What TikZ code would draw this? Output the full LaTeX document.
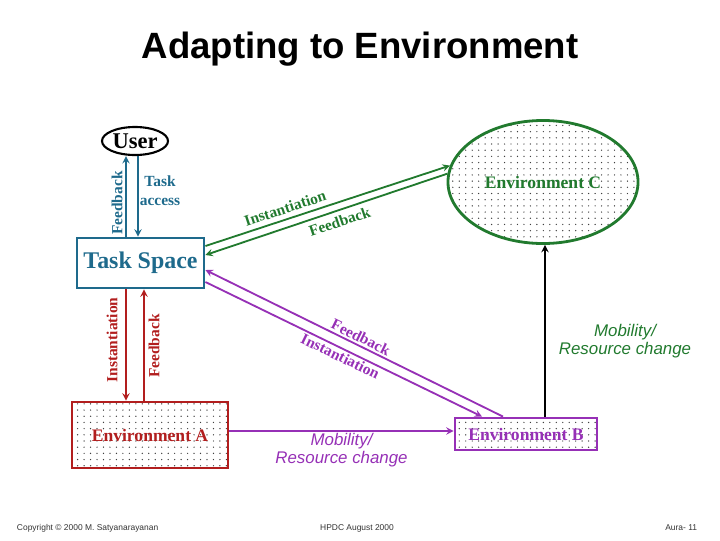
\documentclass[tikz,border=0pt]{standalone}
\usepackage{fontspec}
\setmainfont{Liberation Serif}
\setsansfont{Liberation Sans}
\usetikzlibrary{shapes.geometric,patterns.meta}

\definecolor{taskblue}{RGB}{30,106,140}
\definecolor{envgreen}{RGB}{33,122,46}
\definecolor{envred}{RGB}{178,30,30}
\definecolor{envpurple}{RGB}{150,48,182}

\tikzdeclarepattern{
  name=sparsedots,
  type=uncolored,
  bounding box={(-1pt,-1pt) and (1pt,1pt)},
  tile size={(4.6pt,4.4pt)},
  code={\pgfpathcircle{\pgfpointorigin}{0.5pt}\pgfusepath{fill}}
}

\begin{document}
\begin{tikzpicture}[>=stealth, x=0.025cm, y=-0.025cm,
    envbox/.style={draw, line width=2pt, pattern=sparsedots, pattern color=black!75, inner sep=0pt},
    lbl/.style={font=\bfseries\fontsize{11}{13.5}\selectfont},
    envlbl/.style={font=\bfseries\fontsize{12.5}{15}\selectfont},
    mob/.style={font=\sffamily\itshape\fontsize{12}{13}\selectfont, align=center},
    foot/.style={font=\sffamily\fontsize{6}{7}\selectfont, black!80},
    link/.style={line width=1.3pt}]
    \useasboundingbox (0,0) rectangle (720,540);

    % Title
    \node[font=\sffamily\bfseries\fontsize{26}{30}\selectfont] (title) at (360,49) {Adapting to Environment};

    % User and task space
    \node[ellipse, draw, line width=1.5pt, fill=white, inner sep=0pt,
          minimum width=1.65cm, minimum height=0.7cm,
          font=\bfseries\fontsize{16}{18}\selectfont] (user) at (135,141) {User};
    \node[draw=taskblue, line width=2pt, minimum width=3.175cm, minimum height=1.25cm,
          text=taskblue, font=\bfseries\fontsize{17}{20}\selectfont] (ts) at (140.5,263) {Task Space};

    % Environments
    \node[envbox, draw=envred, minimum width=3.9cm, minimum height=1.65cm,
          text=envred, envlbl] (envA) at (150,435) {Environment A};
    \node[envbox, draw=envpurple, minimum width=3.55cm, minimum height=0.8cm,
          text=envpurple, envlbl] (envB) at (526,434) {Environment B};
    \node[envbox, ellipse, draw=envgreen, minimum width=4.75cm, minimum height=3.075cm,
          text=envgreen, envlbl] (envC) at (543,182) {Environment C};

    % User <-> task space
    \draw[link, taskblue, ->] (ts.north -| 126,0) -- (user.south -| 126,0);
    \draw[link, taskblue, ->] (user.south -| 138,0) -- (ts.north -| 138,0);
    \node[lbl, taskblue, rotate=90] (fbuser) at (117,203) {Feedback};
    \node[lbl, taskblue, align=center] (access) at (160,191) {Task\\access};

    % Task space <-> environment C
    \draw[link, envgreen, ->] (ts.east |- 0,246) -- (envC.170)
        node[lbl, pos=0.34, sloped, above] {Instantiation};
    \draw[link, envgreen, <-] (ts.east |- 0,255) -- (envC.175)
        node[lbl, pos=0.54, sloped, below] {Feedback};

    % Task space <-> environment B
    \draw[link, envpurple, <-] (ts.east |- 0,270) -- (envB.north -| 503,0)
        node[lbl, pos=0.51, sloped, above, inner sep=1.5pt] {Feedback};
    \draw[link, envpurple, ->] (ts.east |- 0,282) -- (envB.north -| 482,0)
        node[lbl, pos=0.5, sloped, below, inner sep=1pt] {Instantiation};

    % Task space <-> environment A
    \draw[link, envred, ->] (ts.south -| 126,0) -- (envA.north -| 126,0);
    \draw[link, envred, ->] (envA.north -| 144,0) -- (ts.south -| 144,0);
    \node[lbl, envred, rotate=90] (instA) at (112,340) {Instantiation};
    \node[lbl, envred, rotate=90] (fbA) at (154,346) {Feedback};

    % Mobility
    \draw[link, envpurple, ->] (envA.east |- 0,431) -- (envB.west |- 0,431)
        node[midway, below, inner sep=1pt, mob, text=envpurple] {Mobility/\\Resource change};
    \draw[link, black, ->] (envB.north -| 545,0) -- (envC.south -| 545,0);
    \node[mob, text=envgreen] (mobC) at (625,341) {Mobility/\\Resource change};

    % Footer
    \node[foot, anchor=west] (copy) at (12,528) {Copyright © 2000 M. Satyanarayanan};
    \node[foot] (conf) at (357,528) {HPDC August 2000};
    \node[foot, anchor=east] (page) at (702,528) {Aura- 11};
\end{tikzpicture}
\end{document}
